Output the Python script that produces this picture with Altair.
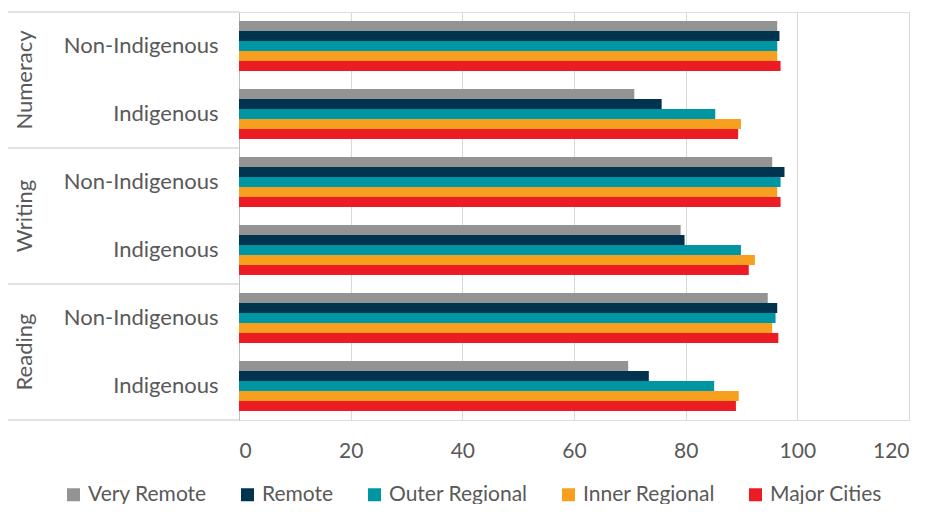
import altair as alt
import pandas as pd

tests = ["Numeracy", "Writing", "Reading"]
groups = ["Non-Indigenous", "Indigenous"]
series = ["Very Remote", "Remote", "Outer Regional", "Inner Regional", "Major Cities"]
colors = ["#939393", "#00334e", "#0095a3", "#f7a01f", "#ed1c24"]

numeracy_non = [96.4, 96.8, 96.4, 96.4, 97.0]
numeracy_ind = [70.8, 75.7, 85.3, 89.9, 89.4]
writing_non = [95.5, 97.7, 97.0, 96.4, 97.0]
writing_ind = [79.1, 79.8, 89.9, 92.4, 91.3]
reading_non = [94.7, 96.4, 96.1, 95.5, 96.6]
reading_ind = [69.7, 73.4, 85.1, 89.5, 89.0]

x_ticks = [0, 20, 40, 60, 80, 100, 120]

vals = {
    ("Numeracy", "Non-Indigenous"): numeracy_non,
    ("Numeracy", "Indigenous"): numeracy_ind,
    ("Writing", "Non-Indigenous"): writing_non,
    ("Writing", "Indigenous"): writing_ind,
    ("Reading", "Non-Indigenous"): reading_non,
    ("Reading", "Indigenous"): reading_ind,
}

row_order = [f"{t}|{g}" for t in tests for g in groups]
recs = []
for t in tests:
    for g in groups:
        for s, v in zip(series, vals[(t, g)]):
            recs.append({"row": f"{t}|{g}", "series": s, "value": v})
df = pd.DataFrame(recs)

n = len(tests)
sep_df = pd.DataFrame({"b": list(range(n + 1))})
lab_df = pd.DataFrame({"test": tests, "mid": [n - i - 0.5 for i in range(n)]})

FONT = "Lato"
GREY = "#595959"
LINE = "#d9d9d9"

bars = alt.Chart(df).mark_bar().encode(
    x=alt.X("value:Q", scale=alt.Scale(domain=[0, 120], nice=False),
            axis=alt.Axis(values=x_ticks, title=None, grid=True, gridColor=LINE,
                          domain=False, ticks=False, labelFontSize=21,
                          labelPadding=20, labelColor=GREY, labelFont=FONT)),
    y=alt.Y("row:N", sort=row_order,
            scale=alt.Scale(domain=row_order, paddingInner=0.265, paddingOuter=0.132),
            axis=alt.Axis(title=None, labelExpr="split(datum.label, '|')[1]",
                          ticks=False, domainColor="#bfbfbf", labelFontSize=22,
                          labelPadding=21, labelColor=GREY, labelFont=FONT)),
    yOffset=alt.YOffset("series:N", sort=series,
                        scale=alt.Scale(domain=series, paddingInner=0, paddingOuter=0)),
    color=alt.Color("series:N", sort=series,
                    scale=alt.Scale(domain=series, range=colors),
                    legend=alt.Legend(title=None, orient="none", direction="horizontal",
                                      legendX=-176, legendY=472, symbolType="square",
                                      symbolSize=169, symbolStrokeWidth=0,
                                      labelFontSize=21, labelColor=GREY, labelFont=FONT,
                                      columnPadding=30, labelOffset=4)),
)

seps = alt.Chart(sep_df).mark_rule(color=LINE, strokeWidth=1.5).encode(
    y=alt.Y("b:Q", scale=alt.Scale(domain=[0, n], nice=False, zero=False), axis=None),
    x=alt.value(-232),
    x2=alt.value(0),
)

labels = alt.Chart(lab_df).mark_text(angle=270, fontSize=22, color=GREY, font=FONT,
                                     align="center", baseline="middle").encode(
    y=alt.Y("mid:Q", scale=alt.Scale(domain=[0, n], nice=False, zero=False), axis=None),
    x=alt.value(-214),
    text="test:N",
)

chart = alt.layer(bars, seps, labels).resolve_scale(y="independent").properties(
    width=670, height=408,
    padding={"left": 231, "top": 4, "right": 13, "bottom": 84},
    autosize=alt.AutoSizeParams(type="none"),
).configure_view(stroke=None).configure(font=FONT)

chart.save("out.html", embed_options={"renderer": "svg", "actions": False})
